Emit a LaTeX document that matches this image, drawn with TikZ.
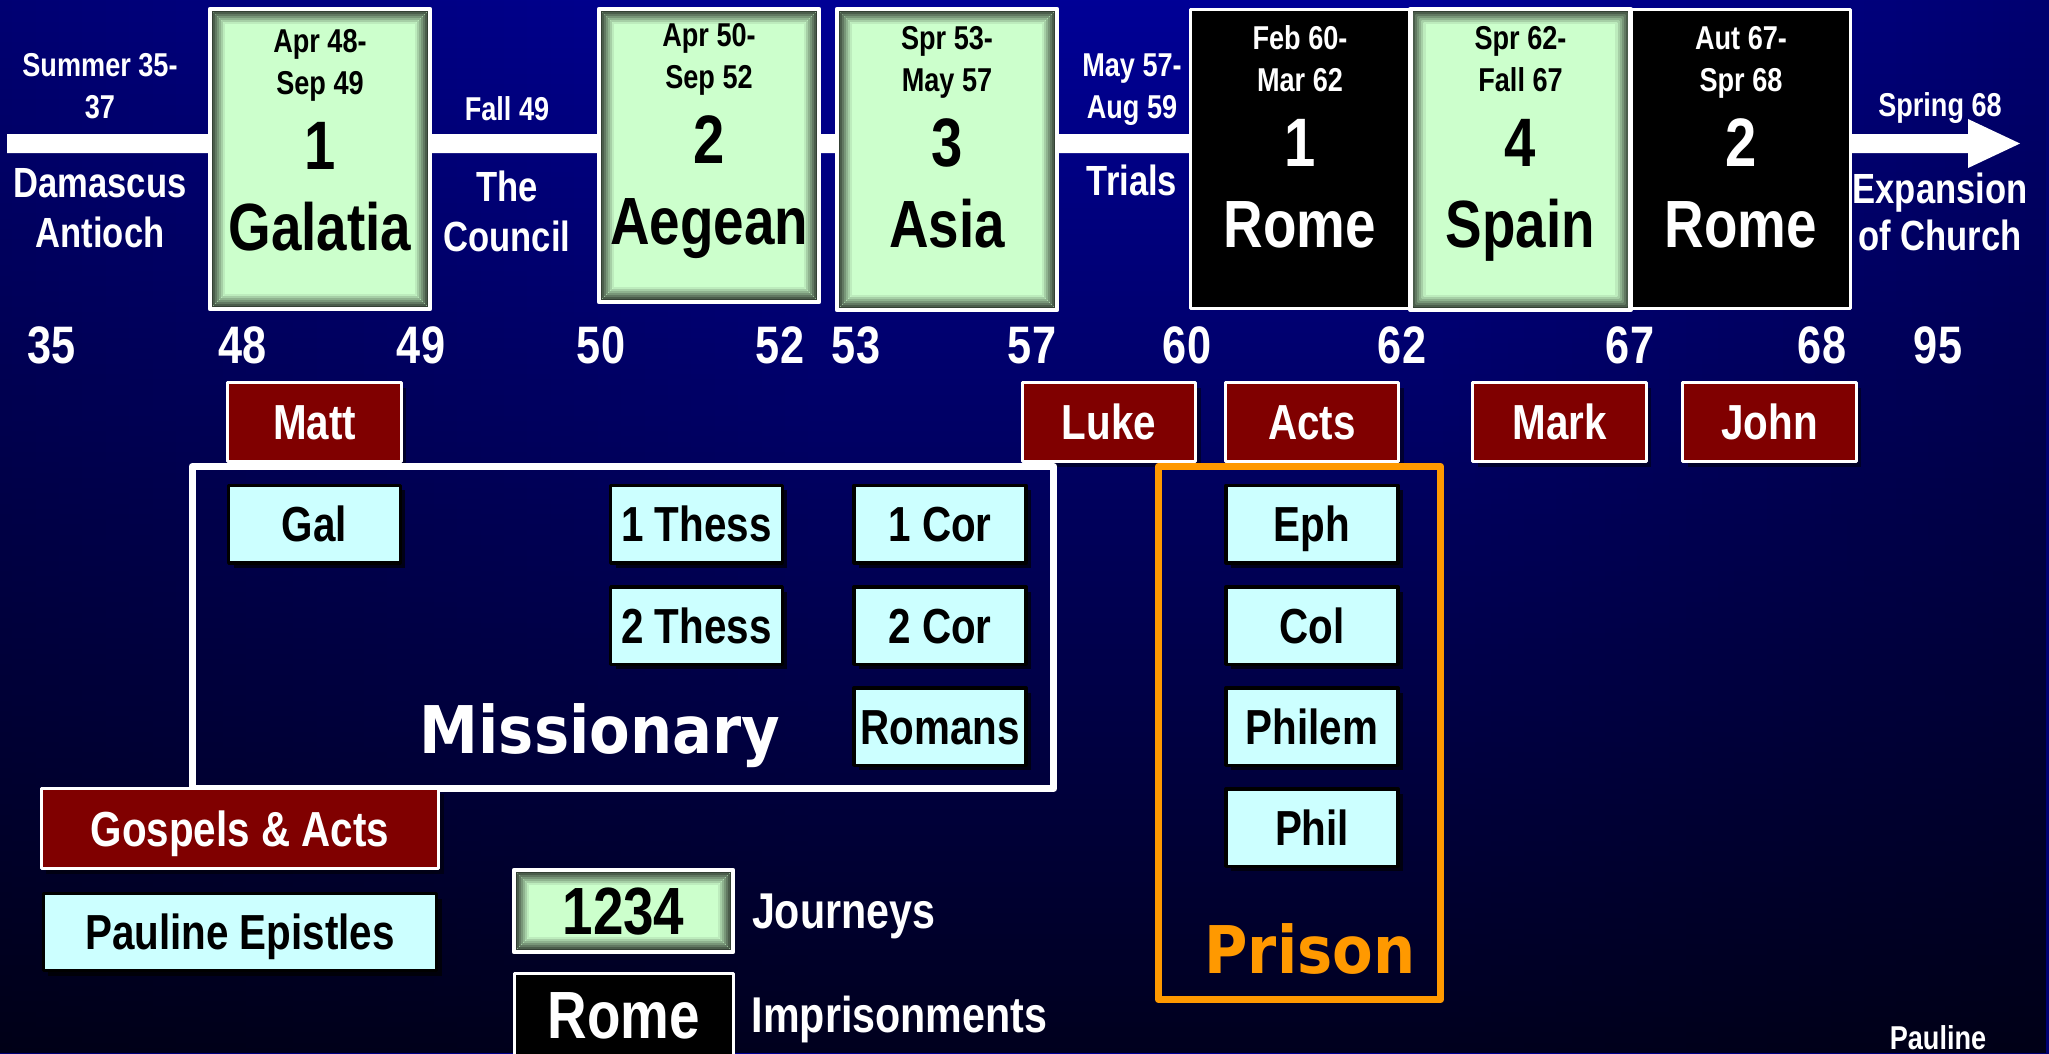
\documentclass[tikz,border=0pt]{standalone}
\usepackage{fontspec}
\newfontfamily\narrowsf{Liberation Sans}[FakeStretch=0.82]
\newfontfamily\widesf{DejaVu Sans}[FakeStretch=0.9]
\usetikzlibrary{positioning,shadows,fadings}

\definecolor{bgblue}{RGB}{0,0,150}
\definecolor{bgA}{RGB}{0,0,14}
\definecolor{bgB}{RGB}{0,0,45}
\definecolor{bgC}{RGB}{0,0,115}
\definecolor{bgD}{RGB}{0,0,112}
\definecolor{bgE}{RGB}{0,0,55}
\definecolor{bgF}{RGB}{0,0,18}
\definecolor{jgreen}{RGB}{204,255,204}
\definecolor{bevel}{RGB}{52,64,52}
\definecolor{ecyan}{RGB}{204,255,255}
\definecolor{gred}{RGB}{128,0,0}
\definecolor{porange}{RGB}{255,153,0}

\pgfdeclarehorizontalshading{glow}{100bp}{%
  color(0bp)=(black); color(4bp)=(bgA); color(10bp)=(bgB); color(25bp)=(bgC);
  color(45bp)=(bgblue); color(60bp)=(bgblue); color(75bp)=(bgD); color(88bp)=(bgE);
  color(96bp)=(bgF); color(100bp)=(black)}
\tikzfading[name=fadedown, top color=transparent!100, middle color=transparent!85,
  bottom color=transparent!20]

\tikzset{
  jbox/.style={draw=white, line width=0.045cm, fill=jgreen, minimum width=2.2cm,
    inner sep=0pt, path picture={
      \foreach \k [evaluate=\k as \p using int(15*\k)] in {0,...,6}
        \draw[line width=0.022cm, draw=jgreen!\p!bevel]
          ([shift={(2*\k+2,-2*\k-2)}]path picture bounding box.south west) rectangle
          ([shift={(-2*\k-2,2*\k+2)}]path picture bounding box.north east);
    }},
  rbox/.style={draw=white, line width=0.03cm, fill=black, minimum width=2.18cm, inner sep=0pt},
  gbox/.style={draw=white, line width=0.03cm, fill=gred, text=white, inner sep=0pt,
    minimum width=1.73cm, minimum height=0.79cm,
    font=\narrowsf\bfseries\fontsize{14}{17}\selectfont, text height=10pt, text depth=0pt,
    drop shadow={shadow xshift=0.05cm, shadow yshift=-0.05cm, opacity=0.5, fill=black}},
  ebox/.style={draw=black, line width=0.035cm, fill=ecyan, text=black, inner sep=0pt,
    minimum width=1.715cm, minimum height=0.775cm,
    font=\narrowsf\bfseries\fontsize{14}{17}\selectfont, text height=10pt, text depth=0pt,
    drop shadow={shadow xshift=0.05cm, shadow yshift=-0.05cm, opacity=0.7, fill=black}},
  frame/.style={draw=#1, line width=0.07cm, inner sep=0pt},
  datetxt/.style={font=\narrowsf\bfseries\fontsize{9.4}{11}\selectfont, anchor=base, inner sep=0pt},
  numtxt/.style={font=\narrowsf\bfseries\fontsize{19.5}{23}\selectfont, anchor=base, inner sep=0pt},
  placetxt/.style={font=\narrowsf\bfseries\fontsize{19}{23}\selectfont, anchor=base, inner sep=0pt},
  labtxt/.style={font=\narrowsf\bfseries\fontsize{12}{14}\selectfont, text=white, anchor=base, inner sep=0pt},
  yeartxt/.style={font=\narrowsf\bfseries\fontsize{15}{18}\selectfont, text=white, anchor=base, inner sep=0pt},
  bigtxt/.style={font=\narrowsf\bfseries\fontsize{19}{23}\selectfont, text height=13.6pt, text depth=0pt},
  legtxt/.style={font=\narrowsf\bfseries\fontsize{14.3}{17}\selectfont, text=white,
    text height=10.2pt, text depth=0pt, inner sep=0pt},
  headtxt/.style={font=\widesf\bfseries\fontsize{18.7}{22}\selectfont, anchor=base, inner sep=0pt}
}

\begin{document}
\begin{tikzpicture}[x=0.01cm,y=-0.01cm,line join=round]
  \useasboundingbox (0,0) rectangle (2049,1053);
  % background
  \shade[shading=glow] (0,0) rectangle (2049,1053);
  \fill[black, path fading=fadedown, fit fading=true] (0,0) rectangle (2049,1053);

  % time line
  \fill[white] (7,134) -- (1968,134) -- (1968,119) -- (2020,143.5)
    -- (1968,168) -- (1968,153) -- (7,153) -- cycle;

  % journeys and imprisonments
  \foreach \bn/\bx/\by/\bh/\bstyle/\bcol/\bdy/\dA/\dB/\bnum/\bplace in {
      gal/320/159/3.00/jbox/black/3/Apr 48-/Sep 49/1/Galatia,
      aeg/709/155.5/2.93/jbox/black/-3/Apr 50-/Sep 52/2/Aegean,
      asia/947/159.5/3.01/jbox/black/0/Spr 53-/May 57/3/Asia,
      romA/1300/159/2.99/rbox/white/0/Feb 60-/Mar 62/1/Rome,
      spain/1520.5/159.5/3.01/jbox/black/0/Spr 62-/Fall 67/4/Spain,
      romB/1741/159/2.99/rbox/white/0/Aut 67-/Spr 68/2/Rome} {
    \node[\bstyle, minimum height=\bh cm] (\bn) at (\bx,\by) {};
    \node[datetxt, text=\bcol] (\bn-d1) at ({\bx},{49+\bdy}) {\dA};
    \node[datetxt, text=\bcol] (\bn-d2) at ({\bx},{91+\bdy}) {\dB};
    \node[numtxt, text=\bcol] (\bn-nr) at ({\bx},{166+\bdy}) {\bnum};
    \node[placetxt, text=\bcol] (\bn-pl) at ({\bx},{247+\bdy}) {\bplace};
  }

  % between the boxes
  \node[datetxt, text=white] (sumA) at (100,76) {Summer 35-};
  \node[datetxt, text=white] (sumB) at (100,118) {37};
  \node[labtxt] (damA) at (100,197) {Damascus};
  \node[labtxt] (damB) at (100,247) {Antioch};
  \node[datetxt, text=white] (fall) at (507,120) {Fall 49};
  \node[labtxt] (counA) at (507,201) {The};
  \node[labtxt] (counB) at (507,251) {Council};
  \node[datetxt, text=white] (trA) at (1132,76) {May 57-};
  \node[datetxt, text=white] (trB) at (1132,118) {Aug 59};
  \node[labtxt] (trials) at (1132,195) {Trials};
  \node[datetxt, text=white] (spring) at (1940,116) {Spring 68};
  \node[labtxt] (expA) at (1940,203) {Expansion};
  \node[labtxt] (expB) at (1940,250) {of Church};

  % years
  \foreach \yr/\yx in {35/52,48/243,49/421,50/601,52/780,53/856,57/1032,
      60/1187,62/1402,67/1630,68/1822,95/1938}
    \node[yeartxt] (y\yr) at (\yx,363) {\yr};

  % gospels
  \foreach \gn/\gx/\gt in {matt/314.5/Matt,luke/1109/Luke,acts/1312/Acts,
      mark/1559.5/Mark,john/1769.5/John}
    \node[gbox] (\gn) at (\gx,422) {\gt};

  % epistles
  \node[frame=white, minimum width=8.61cm, minimum height=3.22cm] (miss) at (623,627.5) {};
  \node[frame=porange, minimum width=2.82cm, minimum height=5.33cm] (pris) at (1299.5,733) {};
  \foreach \en/\ex/\ey/\et in {gal/314.5/524/Gal,thA/696.5/524/1 Thess,
      corA/940/524/1 Cor,thB/696.5/625.5/2 Thess,corB/940/625.5/2 Cor,
      rom/940/726.5/Romans,eph/1312/524/Eph,col/1312/625.5/Col,
      phm/1312/726.5/Philem,php/1312/827.5/Phil}
    \node[ebox] (e\en) at (\ex,\ey) {\et};
  \node[headtxt, text=white] (misst) at (600,753) {Missionary};
  \node[headtxt, text=porange] (prist) at (1310,973) {Prison};

  % legend
  \node[gbox, minimum width=3.97cm, minimum height=0.8cm] (lgos) at (240,828.5) {Gospels \& Acts};
  \node[ebox, minimum width=3.93cm, minimum height=0.77cm] (lpaul) at (240,932) {Pauline Epistles};
  \node[jbox, minimum width=2.19cm, minimum height=0.82cm, bigtxt] (ljour) at (623.5,911) {1234};
  \node[rbox, minimum width=2.19cm, minimum height=0.83cm, bigtxt, text=white] (lrome) at (624,1015) {Rome};
  \node[legtxt, right=0.16cm of ljour] (tjour) {Journeys};
  \node[legtxt, right=0.16cm of lrome] (trome) {Imprisonments};
  \node[datetxt, text=white] (paul) at (1938,1049) {Pauline};
\end{tikzpicture}
\end{document}
